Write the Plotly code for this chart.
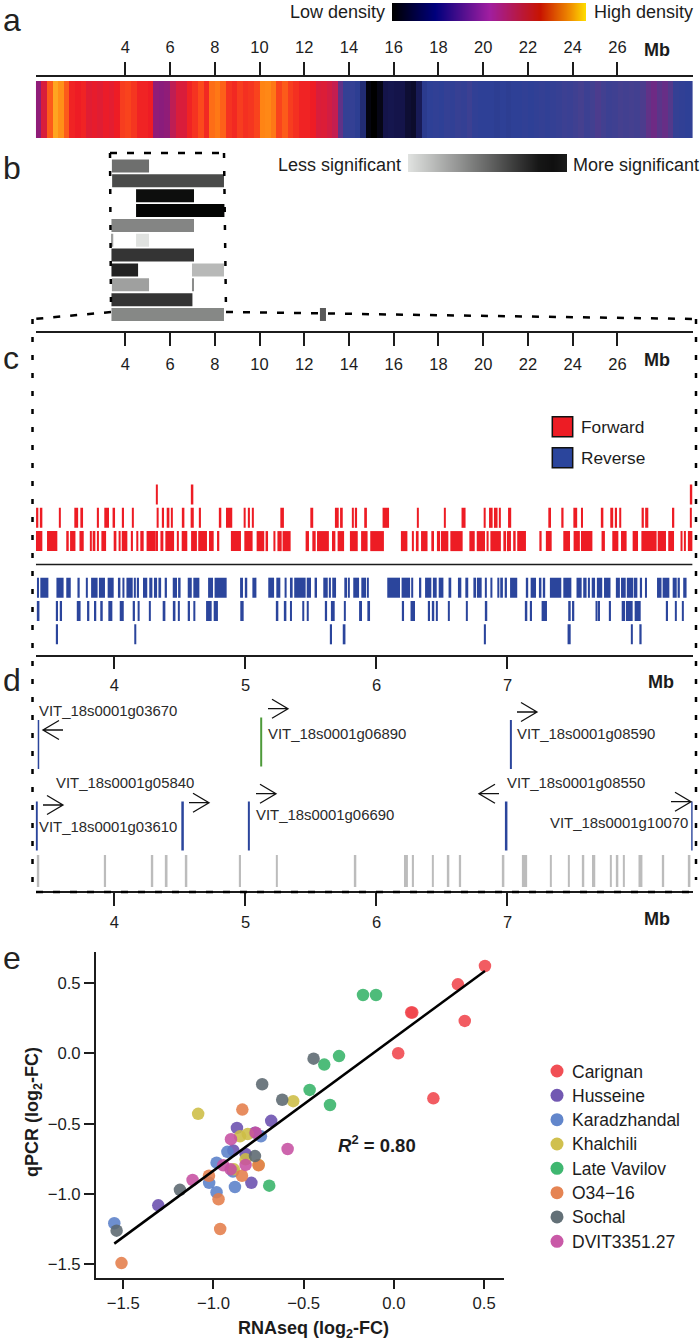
import plotly.graph_objects as go

FONT = "Liberation Sans"
INK = "#1c1c1c"
W, H = 700, 1344

# ---------- panel a: gene density along chromosome (0.25 Mb bins)
density = [.47,.62,.85,1.0,.95,.85,.7,.68,.7,.64,.66,.64,.67,.65,.68,.78,.8,.76,.7,.7,.68,.47,.46,.47,
           .55,.62,.62,.7,.75,.82,.72,.88,.9,.86,.75,.72,.78,.74,.76,.8,.92,.93,.9,.8,.85,.78,.74,.7,
           .7,.68,.62,.63,.6,.56,.4,.3,.3,.27,.2,.02,.0,.03,.1,.11,.1,.1,.07,.06,.13,.26,.28,.29,
           .28,.3,.29,.31,.3,.33,.29,.28,.28,.28,.27,.28,.27,.28,.28,.29,.28,.29,.3,.29,.3,.31,.33,.32,
           .34,.36,.33,.35,.37,.35,.33,.34,.36,.35,.36,.35,.37,.4,.42,.39,.41,.38,.3,.29,.28,.29]
density_bins = [0.125 + 0.25 * i for i in range(len(density))]
density_colors = [[0, "#000000"], [.1, "#14144a"], [.28, "#2e4096"], [.36, "#45408f"], [.46, "#8a1c7c"],
                  [.56, "#c41e50"], [.68, "#ee1c25"], [.82, "#fb4a1c"], [.92, "#ff8414"], [1, "#ffa520"]]
density_legend = [0, .1, .2, .3, .4, .5, .6, .7, .8, .9, 1]
density_legend_colors = [[0, "#000000"], [.22, "#00007c"], [.5, "#a01ea0"], [.76, "#c81400"], [.92, "#f09000"], [1, "#ffe000"]]
mb_ticks = [4, 6, 8, 10, 12, 14, 16, 18, 20, 22, 24, 26]
chrom_end = 29.36

# ---------- panel b: QTL-like intervals
sig_row = [1, 2, 3, 4, 5, 6, 6, 7, 8, 8, 9, 9, 10, 11, 11]
sig_start = [3.40, 3.41, 4.48, 4.48, 3.38, 3.36, 4.48, 3.38, 3.38, 6.98, 3.40, 6.98, 3.38, 3.38, 12.70]
sig_end = [5.06, 8.41, 7.07, 8.43, 7.07, 3.46, 5.06, 7.07, 4.57, 8.41, 5.06, 7.07, 7.00, 8.41, 12.97]
sig_value = [.51, .67, .94, .98, .41, .29, 0, .77, .85, .18, .29, .38, .77, .40, .60]
sig_colors = [[0, "#e0e2e0"], [1, "#000000"]]
sig_legend = [0, .1, .2, .3, .4, .5, .6, .7, .8, .9, .93, .88]

# ---------- panel c: genes on both strands
fwd1_s = [0.0,0.50,1.36,1.53,1.95,2.44,2.54,2.73,2.93,3.48,3.70,3.84,4.27,4.49,4.67,4.95,5.39,5.57,5.79,6.31,6.52,6.94,7.26,7.74,8.10,8.72,9.32,9.87,10.27,10.62,10.80,11.03,12.06,12.36,12.57,13.24,13.49,14.04,14.54,
          14.95,16.32,16.81,16.99,17.22,17.68,17.93,18.11,18.53,19.38,19.71,20.15,20.32,20.90,21.06,21.34,21.52,22.51,22.80,23.58,24.04,24.37,25.29,25.77,26.16,26.68,27.07,27.80,28.27,28.82,28.97,29.15]
fwd1_e = [0.29,0.96,1.47,1.77,2.14,2.50,2.66,2.82,3.14,3.60,3.79,4.09,4.34,4.58,4.82,5.36,5.46,5.70,6.18,6.37,6.77,7.20,7.65,7.95,8.20,9.17,9.69,10.21,10.38,10.71,10.99,11.39,12.21,12.51,13.10,13.39,13.78,14.39,14.83,
          15.56,16.61,16.90,17.11,17.51,17.80,18.07,18.44,19.08,19.62,20.08,20.24,20.79,21.02,21.24,21.45,21.91,22.61,23.06,23.88,24.32,24.88,25.44,26.04,26.41,26.92,27.75,28.17,28.53,28.91,29.06,29.36]
fwd2_s = [0.01,0.22,1.05,1.72,1.99,2.76,3.06,3.43,3.87,4.30,5.40,5.65,5.85,6.04,6.56,6.92,7.31,8.22,8.50,9.29,9.50,9.68,10.93,12.27,13.37,13.60,14.13,14.28,14.68,
          15.50,17.04,18.26,19.03,20.02,20.26,20.48,20.70,21.11,22.91,23.49,24.03,24.37,25.29,25.68,25.90,26.08,27.08,27.24,28.44,29.24]
fwd2_e = [0.11,0.29,1.11,1.89,2.11,2.82,3.27,3.54,3.94,4.37,5.49,5.73,5.97,6.12,6.64,7.06,7.38,8.29,8.78,9.38,9.57,9.74,11.09,12.40,13.54,13.72,14.19,14.36,14.80,
          15.79,17.11,18.32,19.21,20.11,20.42,20.64,20.78,21.25,23.03,23.59,24.20,24.46,25.37,25.81,25.98,26.17,27.18,27.38,28.54,29.30]
fwd3_s = [5.39, 6.97, 29.27]
fwd3_e = [5.45, 7.04, 29.35]
rev1_s = [0.05,0.20,0.92,1.36,1.86,2.24,2.47,2.82,3.21,3.67,3.87,4.05,4.39,4.55,4.79,5.07,5.28,5.48,5.76,6.12,6.36,6.79,7.04,7.70,7.99,9.13,9.38,9.68,10.39,10.75,11.12,11.36,11.55,12.11,12.46,12.85,13.12,13.25,13.79,13.95,14.19,14.55,14.82,
          15.71,16.35,16.78,17.13,17.40,17.75,18.01,18.45,18.87,19.20,19.56,19.72,20.08,20.32,20.63,20.76,20.96,21.20,21.93,22.12,22.49,22.69,22.98,23.58,24.17,24.47,24.68,24.85,25.08,25.40,25.93,26.16,26.42,26.74,27.02,27.23,27.77,28.02,28.47,28.69,28.94]
rev1_e = [0.14,0.56,1.24,1.56,1.96,2.32,2.76,3.09,3.48,3.78,3.96,4.33,4.46,4.61,4.98,5.21,5.42,5.60,5.86,6.31,6.47,6.97,7.31,7.92,8.53,9.26,9.45,9.86,10.65,10.93,11.21,11.48,12.06,12.30,12.57,13.05,13.19,13.42,13.91,14.03,14.45,14.76,14.88,
          16.28,16.73,16.87,17.23,17.68,17.92,18.22,18.57,19.02,19.33,19.68,19.93,20.15,20.41,20.72,20.88,21.06,21.52,22.01,22.36,22.60,22.77,23.49,23.94,24.40,24.62,24.77,25.00,25.32,25.69,26.11,26.37,26.71,26.89,27.10,27.32,27.97,28.32,28.65,28.79,29.09]
rev2_s = [0.08,0.92,1.07,1.83,2.29,2.60,2.88,3.24,3.75,4.33,4.55,5.06,5.67,6.16,6.36,6.79,7.04,7.61,7.95,9.14,10.77,11.12,11.36,11.91,12.11,12.96,13.19,13.79,14.45,
          14.82,16.40,16.75,17.54,17.74,17.89,18.42,19.24,20.11,21.90,22.10,22.61,23.80,23.97,25.02,25.16,25.64,26.19,26.38,26.77,28.20,28.57,28.88]
rev2_e = [0.16,0.99,1.17,2.00,2.39,2.70,2.99,3.42,3.93,4.43,4.64,5.13,5.79,6.24,6.41,6.89,7.13,7.86,8.14,9.29,10.84,11.20,11.45,12.00,12.20,13.02,13.36,13.85,14.58,
          14.94,16.46,16.95,17.62,17.81,17.96,18.50,19.30,20.18,21.97,22.18,22.85,23.91,24.07,25.11,25.22,25.71,26.34,26.68,27.04,28.26,28.65,28.96]
rev3_s = [0.92, 4.40, 13.16, 13.72, 20.06, 23.77, 26.60, 26.98]
rev3_e = [0.99, 4.49, 13.24, 13.84, 20.12, 23.91, 26.66, 27.08]
strand_names = ["Forward", "Reverse"]
strand_colors = ["#ed1c24", "#2b459c"]

# ---------- panel d: highlighted genes in the 3.4-8.4 Mb window
region_ticks = [4, 5, 6, 7]
gene_names = ["VIT_18s0001g03670", "VIT_18s0001g03610", "VIT_18s0001g05840", "VIT_18s0001g06690",
              "VIT_18s0001g06890", "VIT_18s0001g08590", "VIT_18s0001g08550", "VIT_18s0001g10070"]
gene_mb = [3.42, 3.405, 4.52, 5.026, 5.12, 7.026, 6.99, 8.41]
gene_track = [2, 1, 1, 1, 2.03, 2, 1, 1]
gene_color = ["#2b459c", "#2b459c", "#2b459c", "#2b459c", "#4e9a3a", "#2b459c", "#2b459c", "#2b459c"]
gene_width = [1.5, 2.5, 2.5, 2, 2, 2, 2.5, 2]
gray_s = [3.414,3.924,4.284,4.39,4.544,4.954,5.234,5.834,6.21,6.274,6.424,6.544,6.634,6.964,7.11,7.324,7.464,7.574,7.645,7.784,7.834,7.884,8.0,8.184,8.384]
gray_e = [3.426,3.936,4.296,4.405,4.556,4.966,5.246,5.846,6.24,6.286,6.436,6.556,6.646,6.976,7.15,7.336,7.476,7.586,7.67,7.796,7.846,7.896,8.03,8.196,8.396]

# ---------- panel e: RNAseq vs qPCR
cultivars = ["Carignan", "Husseine", "Karadzhandal", "Khalchili", "Late Vavilov", "O34\u221216", "Sochal", "DVIT3351.27"]
cult_colors = ["#f0464c", "#6a4fae", "#5a80c8", "#cdbd44", "#35b368", "#e47d4a", "#5b6870", "#c650a2"]
rna = [
    [0.505, 0.355, 0.393, 0.096, 0.102, 0.024, 0.219],
    [-0.87, -0.68, -0.77, -0.89, -0.822, -0.79, -1.306],
    [-0.737, -0.923, -0.983, -1.024, -0.983, -0.881, -1.55, -0.892],
    [-1.085, -0.558, -0.81, -0.853, -0.75, -0.822, -0.887],
    [-0.171, -0.099, -0.304, -0.386, -0.467, -0.354, -0.691],
    [-0.84, -1.025, -0.842, -0.972, -0.963, -1.51, -0.75],
    [-0.445, -0.73, -0.619, -0.77, -1.186, -1.537],
    [-0.903, -0.766, -0.589, -0.946, -1.116, -0.822, -0.905],
]
qpcr = [
    [0.62, 0.49, 0.23, 0.29, 0.29, 0.0, -0.32],
    [-0.53, -0.48, -0.564, -0.69, -0.715, -0.92, -1.08],
    [-0.59, -0.70, -0.777, -0.92, -0.987, -0.95, -1.207, -0.84],
    [-0.43, -0.34, -0.573, -0.59, -0.793, -0.753, -0.824],
    [0.414, 0.414, -0.02, -0.08, -0.26, -0.367, -0.94],
    [-0.40, -0.87, -0.87, -1.037, -1.248, -1.49, -0.795],
    [-0.038, -0.22, -0.33, -0.73, -0.97, -1.26],
    [-0.61, -0.564, -0.68, -0.795, -0.90, -0.793, -0.824],
]
fit_x = [-1.55, 0.505]
fit_y = [-1.352, 0.585]
e_ticks_x = [-1.5, -1.0, -0.5, 0.0, 0.5]
e_ticks_y = [-1.5, -1.0, -0.5, 0.0, 0.5]


def fx(px):
    return px / W


def fy(py):
    return 1 - py / H


def dom_x(a, b):
    return [fx(a), fx(b)]


def dom_y(top, bottom):
    return [fy(bottom), fy(top)]


fig = go.Figure()
shapes = []
notes = []


def note(px, py, text, size=17, anchor="left", color=INK, weight="normal", **kw):
    notes.append(dict(x=fx(px), y=fy(py), xref="paper", yref="paper", text=text, showarrow=False,
                      xanchor=anchor, yanchor="middle", borderpad=0, borderwidth=0,
                      font=dict(family=FONT, size=size, color=color, weight=weight), **kw))


def pline(x0, y0, x1, y1, color="#000000", width=2.5, dash="7px,10px"):
    shapes.append(dict(type="line", xref="paper", yref="paper", x0=fx(x0), y0=fy(y0), x1=fx(x1), y1=fy(y1),
                       line=dict(color=color, width=width, dash=dash)))


def hidden():
    return dict(visible=False, fixedrange=True)


def tick_axis(ticks, rng, domain, position, side, ticklen=13, size=16.5, standoff=None, width=1.5):
    d = dict(range=rng, domain=domain, anchor="free", position=position, side=side, tickmode="array", tickvals=ticks,
             ticks="outside", ticklen=ticklen, tickwidth=width, tickcolor=INK, showline=True, linecolor=INK, linewidth=width,
             showgrid=False, zeroline=False, tickfont=dict(family=FONT, size=size, color=INK))
    if standoff is not None:
        d["ticklabelstandoff"] = standoff
    return d


MB_DOM = dom_x(35.85, 692.6)
REG_RANGE = [3.40, 8.413]
layout_axes = {}

# panel a
fig.add_trace(go.Heatmap(x=density_bins, y=[0], z=[density], colorscale=density_colors, zmin=0, zmax=1,
                         showscale=False, xaxis="x", yaxis="y", hoverinfo="skip"))
layout_axes["xaxis"] = tick_axis(mb_ticks, [0, chrom_end], MB_DOM, fy(76), "top", width=2, standoff=2)
layout_axes["yaxis"] = dict(hidden(), domain=dom_y(81, 138), range=[-.5, .5])

fig.add_trace(go.Heatmap(z=[density_legend], colorscale=density_legend_colors, zmin=0, zmax=1, zsmooth="best",
                         showscale=False, xaxis="x2", yaxis="y2", hoverinfo="skip"))
layout_axes["xaxis2"] = dict(hidden(), domain=dom_x(392, 586), anchor="y2", range=[0, 10])
layout_axes["yaxis2"] = dict(hidden(), domain=dom_y(3, 21), anchor="x2", range=[-.5, .5])

# panel b
fig.add_trace(go.Bar(orientation="h", y=sig_row, base=sig_start, x=[e - s for s, e in zip(sig_start, sig_end)],
                     width=.875, marker=dict(color=sig_value, colorscale=sig_colors, cmin=0, cmax=1, line=dict(width=0)),
                     xaxis="x3", yaxis="y3", showlegend=False, hoverinfo="skip"))
layout_axes["xaxis3"] = dict(hidden(), domain=MB_DOM, anchor="y3", range=[0, chrom_end])
layout_axes["yaxis3"] = dict(hidden(), domain=dom_y(158.6, 321.9), anchor="x3", range=[11.5, .5])

fig.add_trace(go.Heatmap(z=[sig_legend], colorscale=sig_colors, zmin=0, zmax=1, zsmooth="best",
                         showscale=False, xaxis="x4", yaxis="y4", hoverinfo="skip"))
layout_axes["xaxis4"] = dict(hidden(), domain=dom_x(408, 567), anchor="y4", range=[0, len(sig_legend) - 1])
layout_axes["yaxis4"] = dict(hidden(), domain=dom_y(154, 172), anchor="x4", range=[-.5, .5])

# panel c
tracks = [(1, fwd1_s, fwd1_e, 0), (2, fwd2_s, fwd2_e, 0), (3, fwd3_s, fwd3_e, 0),
          (-1, rev1_s, rev1_e, 1), (-2, rev2_s, rev2_e, 1), (-3, rev3_s, rev3_e, 1)]
for row, s_list, e_list, k in tracks:
    fig.add_trace(go.Bar(orientation="h", y=[row] * len(s_list), base=s_list, x=[e - s for s, e in zip(s_list, e_list)],
                         width=.86, marker=dict(color=strand_colors[k], line=dict(width=0)),
                         xaxis="x5", yaxis="y5", showlegend=False, hoverinfo="skip", name=strand_names[k]))
layout_axes["xaxis5"] = tick_axis(mb_ticks, [0, chrom_end], MB_DOM, fy(332.3), "bottom", standoff=4)
layout_axes["yaxis5"] = dict(hidden(), domain=dom_y(482.85, 645.95), anchor="x5", range=[-3.5, 3.5])
shapes.append(dict(type="line", xref="x5", yref="y5", x0=0, x1=chrom_end, y0=0, y1=0, line=dict(color=INK, width=1.5)))

# panel d genes (top axis)
for mb, tr, col, wd, nm in zip(gene_mb, gene_track, gene_color, gene_width, gene_names):
    fig.add_trace(go.Scatter(x=[mb, mb], y=[tr - .3, tr + .3], mode="lines", line=dict(color=col, width=wd),
                             xaxis="x6", yaxis="y6", showlegend=False, hoverinfo="skip", name=nm))
layout_axes["xaxis6"] = tick_axis(region_ticks, REG_RANGE, MB_DOM, fy(656), "bottom", ticklen=12, standoff=2)
layout_axes["yaxis6"] = dict(hidden(), domain=dom_y(703.75, 907.5), anchor="x6", range=[0, 2.5])

# panel d background genes (bottom axis)
fig.add_trace(go.Bar(orientation="h", y=[0] * len(gray_s), base=gray_s, x=[e - s for s, e in zip(gray_s, gray_e)],
                     width=1, marker=dict(color="#bcbcbc", line=dict(width=0)),
                     xaxis="x7", yaxis="y7", showlegend=False, hoverinfo="skip"))
layout_axes["xaxis7"] = tick_axis(region_ticks, REG_RANGE, MB_DOM, fy(892), "bottom", ticklen=13, standoff=2)
layout_axes["yaxis7"] = dict(hidden(), domain=dom_y(855, 887), anchor="x7", range=[-.5, .5])

# panel e
for name, col, xs, ys in zip(cultivars, cult_colors, rna, qpcr):
    fig.add_trace(go.Scatter(x=xs, y=ys, mode="markers", name=name,
                             marker=dict(color=col, size=12.5, opacity=.88, line=dict(width=0)),
                             xaxis="x8", yaxis="y8", showlegend=False, hoverinfo="skip"))
fig.add_trace(go.Scatter(x=fit_x, y=fit_y, mode="lines", line=dict(color="#000000", width=2.5),
                         xaxis="x8", yaxis="y8", showlegend=False, hoverinfo="skip"))
layout_axes["xaxis8"] = dict(domain=dom_x(95.7, 504), anchor="y8", range=[-1.653, 0.6105], tickmode="array", tickvals=e_ticks_x,
                             tickformat=".1f", ticks="outside", ticklen=10, tickwidth=1.5, tickcolor=INK, showline=True,
                             linecolor=INK, linewidth=1.5, showgrid=False, zeroline=False,
                             tickfont=dict(family=FONT, size=16.7, color=INK))
layout_axes["yaxis8"] = dict(domain=dom_y(952, 1277.7), anchor="x8", range=[-1.594, 0.7195], tickmode="array", tickvals=e_ticks_y,
                             tickformat=".1f", ticks="outside", ticklen=10, tickwidth=1.5, tickcolor=INK, showline=True,
                             linecolor=INK, linewidth=1.5, showgrid=False, zeroline=False,
                             tickfont=dict(family=FONT, size=16.7, color=INK))
note(313, 1329, "RNAseq (log<sub>2</sub>-FC)", size=18, anchor="center", weight="bold")
note(33, 1112, "qPCR (log<sub>2</sub>-FC)", size=18, anchor="center", weight="bold", textangle=-90)

# cultivar key: swatches on their own small axis, one row per cultivar
key_rows = list(range(len(cultivars)))
fig.add_trace(go.Scatter(x=[0] * len(cultivars), y=key_rows, mode="markers",
                         marker=dict(color=cult_colors, size=13, opacity=.95, line=dict(width=0)),
                         xaxis="x9", yaxis="y9", showlegend=False, hoverinfo="skip"))
layout_axes["xaxis9"] = dict(hidden(), domain=dom_x(547, 567), anchor="y9", range=[-1, 1])
layout_axes["yaxis9"] = dict(hidden(), domain=dom_y(1071 - 12.15, 1241.3 + 12.15), anchor="x9", range=[7.5, -.5])
for i, name in enumerate(cultivars):
    note(572, 1071.5 + 24.33 * i, name, size=17.5)

# guide box from panel b to panels c/d
pline(110, 153, 224, 153)
pline(110, 153, 111, 311, dash="5px,13px")
pline(224, 153, 226, 311, dash="5px,13px")
pline(111, 312, 34, 319)
pline(226, 312, 696.5, 319)
pline(32.5, 319, 32.5, 892, dash="5px,13px")
pline(696, 319, 696, 880, dash="5px,13px")
pline(36, 892, 692.6, 892, width=2.5)

# strand legend
for k, (top, label) in enumerate(zip([416.7, 447.7], strand_names)):
    shapes.append(dict(type="rect", xref="paper", yref="paper", x0=fx(552.3), x1=fx(572.7), y0=fy(top), y1=fy(top + 20),
                       fillcolor=strand_colors[k], line=dict(color="#111111", width=1.5)))
    note(580.5, top + 10, label, size=17.3)

# direction arrows
arrow_left = [43, 268, 43, 189, 256, 517, 479, 671]
arrow_y = [730, 708.7, 805, 802.7, 793.7, 712, 793.7, 801.7]
arrow_right = [False, True, True, True, True, True, False, True]
for ax, ay, right in zip(arrow_left, arrow_y, arrow_right):
    tip = ax + 20 if right else ax
    tail = ax if right else ax + 20
    back = tip - 16 if right else tip + 16
    path = "M {} {} L {} {} M {} {} L {} {} L {} {}".format(
        fx(tail), fy(ay), fx(tip), fy(ay), fx(back), fy(ay - 9.5), fx(tip), fy(ay), fx(back), fy(ay + 9.5))
    shapes.append(dict(type="path", xref="paper", yref="paper", path=path, line=dict(color="#111111", width=1.3)))

gene_label_x = [39, 39, 56, 256, 268, 517, 506.7, 550]
gene_label_y = [711, 827, 783, 815, 734, 734, 783, 823]
for nm, lx, ly in zip(gene_names, gene_label_x, gene_label_y):
    note(lx, ly, nm, size=14.9, color="#2a2a2a")

# text
note(385, 12, "Low density", size=18, anchor="right")
note(594, 12, "High density", size=18)
note(401, 165, "Less significant", size=18, anchor="right")
note(573, 165, "More significant", size=18)
note(644, 50, "Mb", size=18, weight="bold")
note(644, 360, "Mb", size=18, weight="bold")
note(647.5, 682, "Mb", size=18, weight="bold")
note(644, 919, "Mb", size=18, weight="bold")
note(338, 1144, "<i>R</i><sup>2</sup> = 0.80", size=18.5, weight="bold")
for letter, ly in zip("abcde", [20, 168, 358, 680, 958]):
    note(3, ly, letter, size=32, color="#222222")

fig.update_layout(
    width=W, height=H, margin=dict(l=0, r=0, t=0, b=0), paper_bgcolor="white", plot_bgcolor="white",
    barmode="overlay", shapes=shapes, annotations=notes, showlegend=False,
    font=dict(family=FONT, color=INK),
    **layout_axes,
)
fig.write_html("out.html", config=dict(displayModeBar=False),
               post_script="document.body.style.margin='0';document.body.style.overflow='hidden';")
